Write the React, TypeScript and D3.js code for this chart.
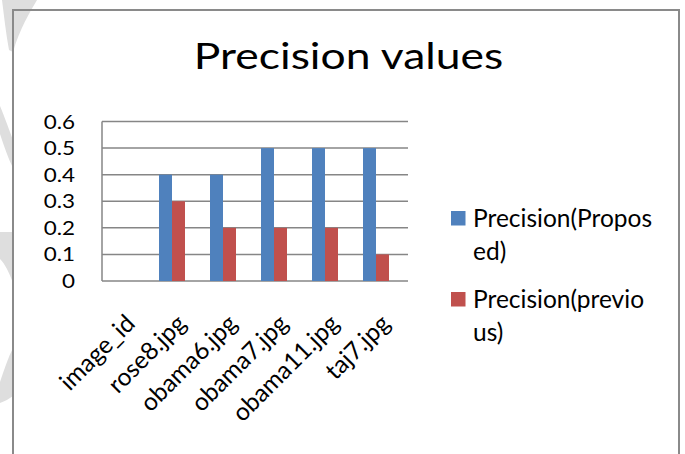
import React from "react";
import * as d3 from "d3";

const title = "Precision values";
const categories = ["image_id", "rose8.jpg", "obama6.jpg", "obama7.jpg", "obama11.jpg", "taj7.jpg"];
const proposed = [0, 0.4, 0.4, 0.5, 0.5, 0.5];
const previous = [0, 0.3, 0.2, 0.2, 0.2, 0.1];
const seriesKeys = ["proposed", "previous", "blank"];
const legendLines = [
  ["Precision(Propos", "ed)"],
  ["Precision(previo", "us)"],
];
const yTicks = [0, 0.1, 0.2, 0.3, 0.4, 0.5, 0.6];

const COLORS = ["#4F81BD", "#C0504D"];
const FONT = "Lato, 'Open Sans', sans-serif";
const GRID = "#868686";

export default function App() {
  const W = 685;
  const H = 454;
  const plot = { left: 102, right: 408, top: 121.5, bottom: 281 };

  const x = d3
    .scaleBand<string>()
    .domain(categories)
    .range([plot.left, plot.right])
    .paddingInner(12 / 51)
    .paddingOuter(6 / 51);
  const xs = d3.scaleBand<string>().domain(seriesKeys).range([0, x.bandwidth()]);
  const y = d3.scaleLinear().domain([0, 0.6]).range([plot.bottom, plot.top]);
  const fmt = (t: number) => (t === 0 ? "0" : d3.format(".1f")(t));
  const series = [proposed, previous];

  return (
    <svg
      width={W}
      height={H}
      style={{ position: "absolute", left: 0, top: 0, background: "#fff" }}
      fontFamily={FONT}
    >
      {/* watermark fragments on left edge */}
      <g fill="#dedede">
        <path d="M2,0 L37,0 C30,12 20,28 13,52 L9,50 C6,34 4,16 2,0 Z" />
        <path d="M0,106 C5,118 10,132 13,140 L13,168 C8,158 4,146 0,134 Z" />
        <path d="M0,232 L13,232 L13,283 C9,272 5,264 0,259 Z" />
        <path d="M13,348 L13,396 C9,399 5,401 0,403 L0,382 C4,370 8,358 13,348 Z" />
      </g>

      {/* chart border */}
      <rect x={13} y={10} width={666} height={470} fill="none" stroke="#8a8a8a" strokeWidth={2} />

      {/* title */}
      <text
        transform={`translate(348.5,69) scale(1.2,1)`}
        textAnchor="middle"
        fontSize={37}
        fill="#000"
      >
        {title}
      </text>

      {/* gridlines */}
      {yTicks.map((t) => (
        <line
          key={"g" + t}
          x1={plot.left}
          x2={plot.right}
          y1={y(t)}
          y2={y(t)}
          stroke={GRID}
          strokeWidth={1.5}
        />
      ))}
      <line x1={plot.left} x2={plot.left} y1={plot.top} y2={plot.bottom} stroke={GRID} strokeWidth={1.5} />

      {/* y tick labels */}
      {yTicks.map((t) => (
        <text
          key={"t" + t}
          transform={`translate(75,${y(t) + 7}) scale(1.15,1)`}
          textAnchor="end"
          fontSize={19.5}
          fill="#000"
        >
          {fmt(t)}
        </text>
      ))}

      {/* bars */}
      {categories.map((c, i) => (
        <g key={c} transform={`translate(${x(c)},0)`}>
          {series.map((s, k) => (
            <rect
              key={k}
              x={xs(seriesKeys[k])}
              y={y(s[i])}
              width={xs.bandwidth()}
              height={plot.bottom - y(s[i])}
              fill={COLORS[k]}
            />
          ))}
        </g>
      ))}

      {/* category labels */}
      {categories.map((c) => {
        const cx = (x(c) as number) + x.bandwidth() / 2;
        return (
          <text
            key={"c" + c}
            transform={`translate(${cx + 9},325) rotate(-45)`}
            textAnchor="end"
            fontSize={24.5}
            fill="#000"
          >
            {c}
          </text>
        );
      })}

      {/* legend */}
      {legendLines.map((lines, k) => {
        const top = 211 + k * 81;
        return (
          <g key={"l" + k}>
            <rect x={451} y={top} width={14.5} height={14.5} fill={COLORS[k]} />
            {lines.map((ln, j) => (
              <text key={j} x={473} y={top + 16 + j * 33} fontSize={24.5} fill="#000">
                {ln}
              </text>
            ))}
          </g>
        );
      })}
    </svg>
  );
}
